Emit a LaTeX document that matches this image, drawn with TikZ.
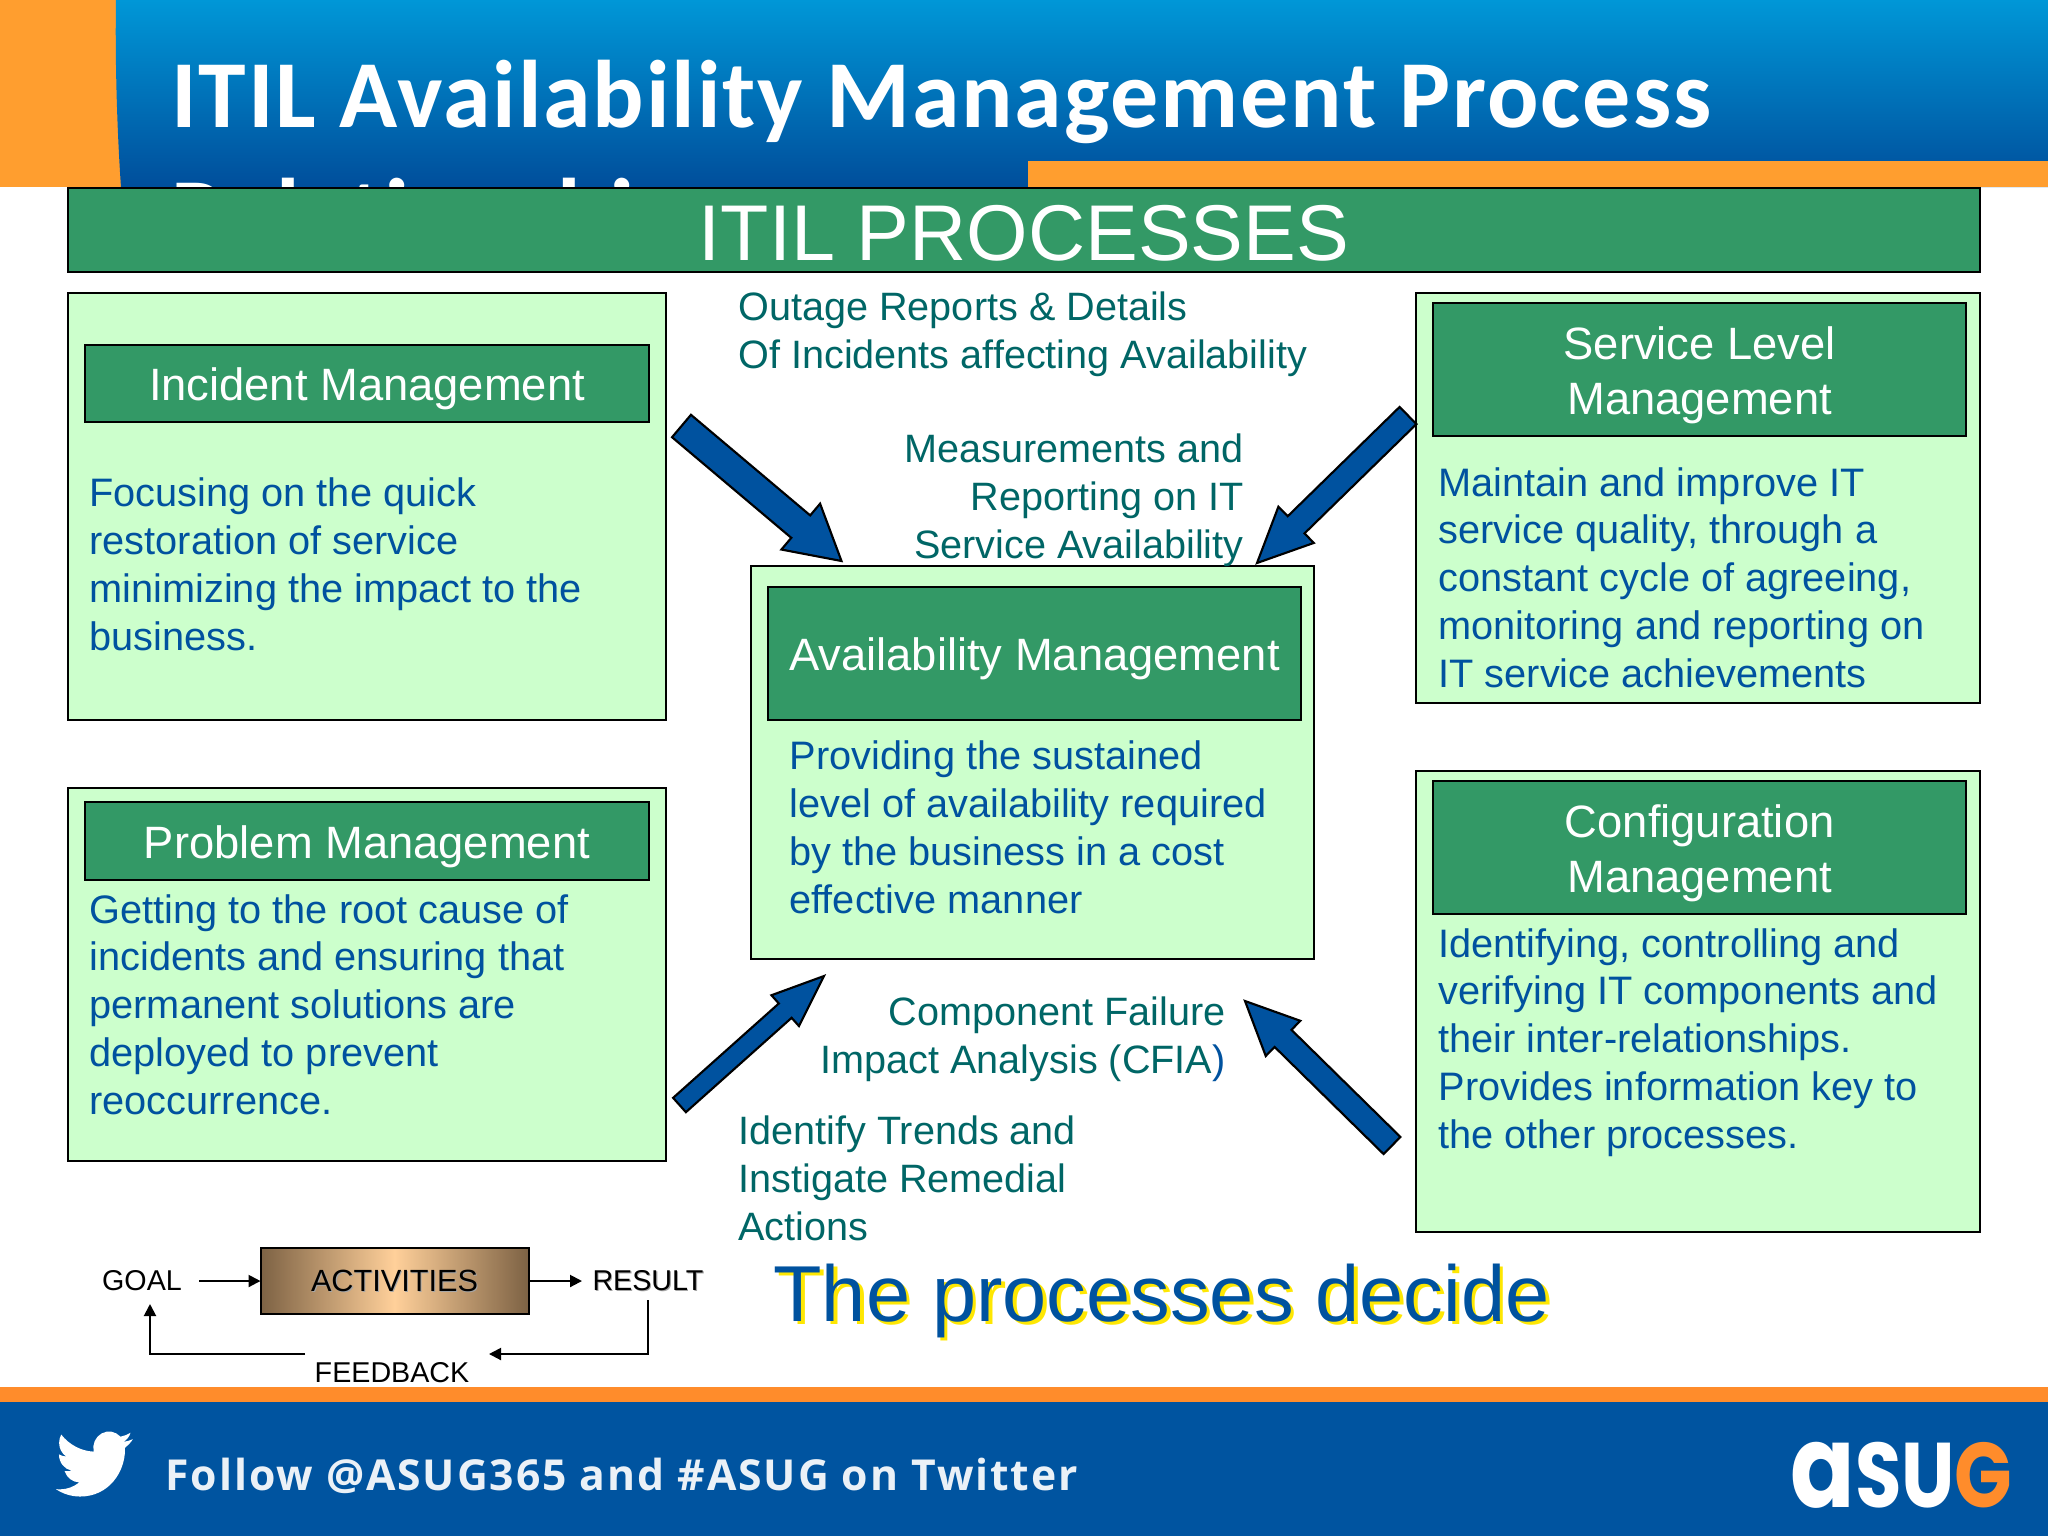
\documentclass[tikz,border=0pt]{standalone}
\usepackage{fontspec}
\setmainfont{Liberation Sans}
\newfontfamily\titlefont[Ligatures=NoCommon,LetterSpace=1.9]{Carlito}
\newfontfamily\followfont[LetterSpace=4.5]{Open Sans}
\newfontfamily\logofont{Poppins}
\usetikzlibrary{calc,arrows.meta}

\definecolor{barGreen}{HTML}{339966}
\definecolor{panelGreen}{HTML}{CCFFCC}
\definecolor{bodyBlue}{HTML}{00529F}
\definecolor{labelTeal}{HTML}{006666}
\definecolor{slideOrange}{HTML}{FF9E2F}
\definecolor{footOrange}{HTML}{FF8C2B}
\definecolor{footBlue}{HTML}{0054A0}
\definecolor{tanLight}{HTML}{FFD09A}
\definecolor{tanDark}{HTML}{7D6244}

\tikzset{
	every picture/.style={line width=0.75pt},
	panel/.style={draw=black,line width=1.5pt,fill=panelGreen,anchor=north west,inner sep=0,outer sep=0},
	bar/.style={draw=black,line width=1.6pt,fill=barGreen,anchor=north west,inner sep=0,outer sep=0,text=white,align=center,font=\fontsize{34}{41}\selectfont},
	bodytext/.style={anchor=base west,inner sep=0,align=left,text=bodyBlue,font=\fontsize{29.8}{35.9}\selectfont},
	labeltext/.style={anchor=base west,inner sep=0,align=left,text=labelTeal,font=\fontsize{29.7}{35.9}\selectfont},
	labelright/.style={labeltext,anchor=base east,align=right},
	fat/.style={draw=black,line width=1.6pt,fill=bodyBlue,line join=miter},
	flowtext/.style={inner sep=0,text=black,font=\fontsize{21.5}{26}\selectfont},
	flow/.style={line width=1.5pt,-{Triangle[length=9pt,width=9pt]}}
}

% tail, tip, head length, head half width, shaft half width
\newcommand{\blockarrow}[5]{%
	\coordinate (neck) at ($(#2)!#3!(#1)$);
	\draw [fat] ($(#1)!#5!90:(#2)$) -- ($(neck)!#5!90:(#2)$) -- ($(neck)!#4!90:(#2)$) -- (#2) -- ($(neck)!#4!-90:(#2)$) -- ($(neck)!#5!-90:(#2)$) -- ($(#1)!#5!-90:(#2)$) -- cycle ;
}
\newcommand{\dropped}[4]{\makebox[0pt][l]{\hspace{#1}\raisebox{-#1}{\color{#2}#4}}\color{#3}#4}
\newcommand{\barup}{\rule{0pt}{33pt}}

\begin{document}
\begin{tikzpicture}[x=0.75pt,y=0.75pt,yscale=-1,xscale=1]
	\useasboundingbox (0,0) rectangle (2048,1536);

	%Title band
	\fill [slideOrange] (0,0) rectangle (200,187);
	\shade [top color={rgb,255:red,0;green,151;blue,215},bottom color={rgb,255:red,0;green,78;blue,155}] (116,0) .. controls (115,60) and (117,130) .. (121,187) -- (2048,187) -- (2048,0) -- cycle ;
	\begin{scope}
		\clip (0,0) rectangle (2048,187);
		% Text Node
		\node [anchor=base west,inner sep=0,align=left,text=white,font=\titlefont\bfseries\fontsize{72}{88}\selectfont] (title) at (171,245) {ITIL Availability Management Process\\Relationships};
	\end{scope}
	\fill [slideOrange] (1028,161) rectangle (2048,187);

	%Footer band
	\fill [footBlue] (0,1402) rectangle (2048,1536);
	\fill [footOrange] (0,1387) rectangle (2048,1402);

	%Green heading
	\node [bar,minimum width=1434pt,minimum height=63pt,font=\fontsize{59.3}{70}\selectfont] (heading) at (68,188) {\rule{0pt}{46pt}ITIL PROCESSES};

	%Incident Management
	\node [panel,minimum width=448.5pt,minimum height=320pt] (incidentPanel) at (68,293) {};
	\node [bar,minimum width=423pt,minimum height=57.5pt] (incidentBar) at (85,345) {\barup Incident Management};
	\node [bodytext] (incidentText) at (89,650) {Focusing on the quick\\restoration of service\\minimizing the impact to the\\business.};

	%Problem Management
	\node [panel,minimum width=448.5pt,minimum height=280pt] (problemPanel) at (68,788) {};
	\node [bar,minimum width=423pt,minimum height=58.5pt] (problemBar) at (85,802) {\barup Problem Management};
	\node [bodytext] (problemText) at (89,1114.5) {Getting to the root cause of\\incidents and ensuring that\\permanent solutions are\\deployed to prevent\\reoccurrence.};

	%Service Level Management
	\node [panel,minimum width=423pt,minimum height=307.5pt] (servicePanel) at (1416,293) {};
	\node [bar,minimum width=400pt,minimum height=100pt] (serviceBar) at (1433,303) {\barup Service Level\\Management};
	\node [bodytext] (serviceText) at (1438,687.5) {Maintain and improve IT\\service quality, through a\\constant cycle of agreeing,\\monitoring and reporting on\\IT service achievements};

	%Configuration Management
	\node [panel,minimum width=423pt,minimum height=345.75pt] (configPanel) at (1416,771) {};
	\node [bar,minimum width=400pt,minimum height=100pt] (configBar) at (1433,781) {\barup Configuration\\Management};
	\node [bodytext] (configText) at (1438,1148.5) {Identifying, controlling and\\verifying IT components and\\their inter-relationships.\\Provides information key to\\the other processes.};

	%Availability Management
	\node [panel,minimum width=422.25pt,minimum height=294.75pt] (availPanel) at (751,566) {};
	\node [bar,minimum width=399.75pt,minimum height=100pt] (availBar) at (768,587) {\barup Availability Management};
	\node [bodytext] (availText) at (789,913) {Providing the sustained\\level of availability required\\by the business in a cost\\effective manner};

	% Text Node
	\node [labeltext] (outageLabel) at (738,368) {Outage Reports \& Details\\Of Incidents affecting Availability};
	\node [labelright] (measureLabel) at (1244,558) {Measurements and\\Reporting on IT\\Service Availability};
	\node [labelright] (failureLabel) at (1226,1073) {Component Failure\\Impact Analysis (CFIA{\color{bodyBlue})}};
	\node [labeltext] (trendsLabel) at (738,1240) {Identify Trends and\\Instigate Remedial\\Actions};

	%Block arrows
	\coordinate (incidentTail) at (681.5,426);
	\coordinate (incidentTip) at (841.5,561);
	\coordinate (serviceTail) at (1408,415.5);
	\coordinate (serviceTip) at (1257,563);
	\coordinate (problemTail) at (679.5,1105);
	\coordinate (problemTip) at (824,976);
	\coordinate (configTail) at (1392,1145.5);
	\coordinate (configTip) at (1245,1001);
	\blockarrow{incidentTail}{incidentTip}{40pt}{22.5pt}{11pt}
	\blockarrow{serviceTail}{serviceTip}{41pt}{19pt}{9pt}
	\blockarrow{problemTail}{problemTip}{39pt}{15.5pt}{7.2pt}
	\blockarrow{configTail}{configTip}{40pt}{18.5pt}{9pt}

	%Small flow
	\node [draw=black,line width=1.5pt,anchor=north west,inner sep=0,outer sep=0,minimum width=201pt,minimum height=49.5pt,left color=tanDark,right color=tanDark,middle color=tanLight,text=black,font=\fontsize{23}{26}\selectfont] (activities) at (260.5,1248) {\dropped{0.8pt}{black!35}{black}{ACTIVITIES}};
	\node [flowtext,inner xsep=12.75pt] (goal) at (142,1281) {GOAL};
	\node [flowtext,inner xsep=7.5pt,inner ysep=6pt] (result) at (648,1281) {\dropped{0.8pt}{black!35}{black}{RESULT}};
	\node [flowtext] (feedback) at (392,1373) {FEEDBACK};
	\coordinate (feedbackIn) at (489,1354);
	\coordinate (feedbackOut) at (305,1354);
	\coordinate (goalIn) at (150,1304);
	\draw [flow] (goal.east) -- (activities.west);
	\draw [flow] (activities.east) -- (result.west);
	\draw [flow] (result.south) |- (feedbackIn);
	\draw [flow] (feedbackOut) -| (goalIn);

	% Text Node
	\node [anchor=base west,inner sep=0,font=\fontsize{59.5}{70}\selectfont] (decide) at (773,1321) {\dropped{2.8pt}{yellow!90!orange}{bodyBlue}{The processes decide}};
	\node [anchor=base west,inner sep=0,text=white!92!footBlue,font=\followfont\bfseries\fontsize{32}{36}\selectfont] (follow) at (165,1490) {Follow @ASUG365 and \#ASUG on Twitter};

	%Bird
	\begin{scope}[shift={(56,1424)},x=2.4pt,y=2.5pt]
		\fill [white] (23.953,4.57) .. controls (23.07,4.96) and (22.11,5.22) .. (21.128,5.345) .. controls (22.15,4.73) and (22.94,3.77) .. (23.291,2.622) .. controls (22.34,3.177) and (21.286,3.581) .. (20.164,3.806) .. controls (18.64,2.18) and (16.21,1.78) .. (14.25,2.83) .. controls (12.29,3.88) and (11.27,6.12) .. (11.78,8.288) .. controls (7.69,8.095) and (4.067,6.13) .. (1.64,3.162) .. controls (1.22,3.87) and (0.974,4.72) .. (0.974,5.637) .. controls (0.974,7.347) and (1.844,8.85) .. (3.162,9.733) .. controls (2.36,9.71) and (1.6,9.49) .. (0.934,9.117) -- (0.934,9.177) .. controls (0.934,11.56) and (2.63,13.55) .. (4.88,14.004) .. controls (4.17,14.2) and (3.41,14.23) .. (2.668,14.089) .. controls (3.33,16.05) and (5.14,17.46) .. (7.272,17.506) .. controls (5.59,18.83) and (3.47,19.611) .. (1.17,19.611) .. controls (0.78,19.611) and (0.391,19.588) .. (0,19.544) .. controls (2.18,20.95) and (4.77,21.753) .. (7.557,21.753) .. controls (16.61,21.753) and (21.555,14.257) .. (21.555,7.768) .. controls (21.555,7.558) and (21.555,7.348) .. (21.54,7.138) .. controls (22.49,6.45) and (23.33,5.6) .. (24,4.59) -- cycle ;
	\end{scope}

	%Logo
	\node [anchor=base west,inner sep=0,text=white,font=\logofont\bfseries\fontsize{70}{70}\selectfont] (logo) at (1790,1507) {\resizebox{166.5pt}{49pt}{{\fontsize{88}{88}\selectfont a}SU{\color{footOrange}G}}};
\end{tikzpicture}
\end{document}
